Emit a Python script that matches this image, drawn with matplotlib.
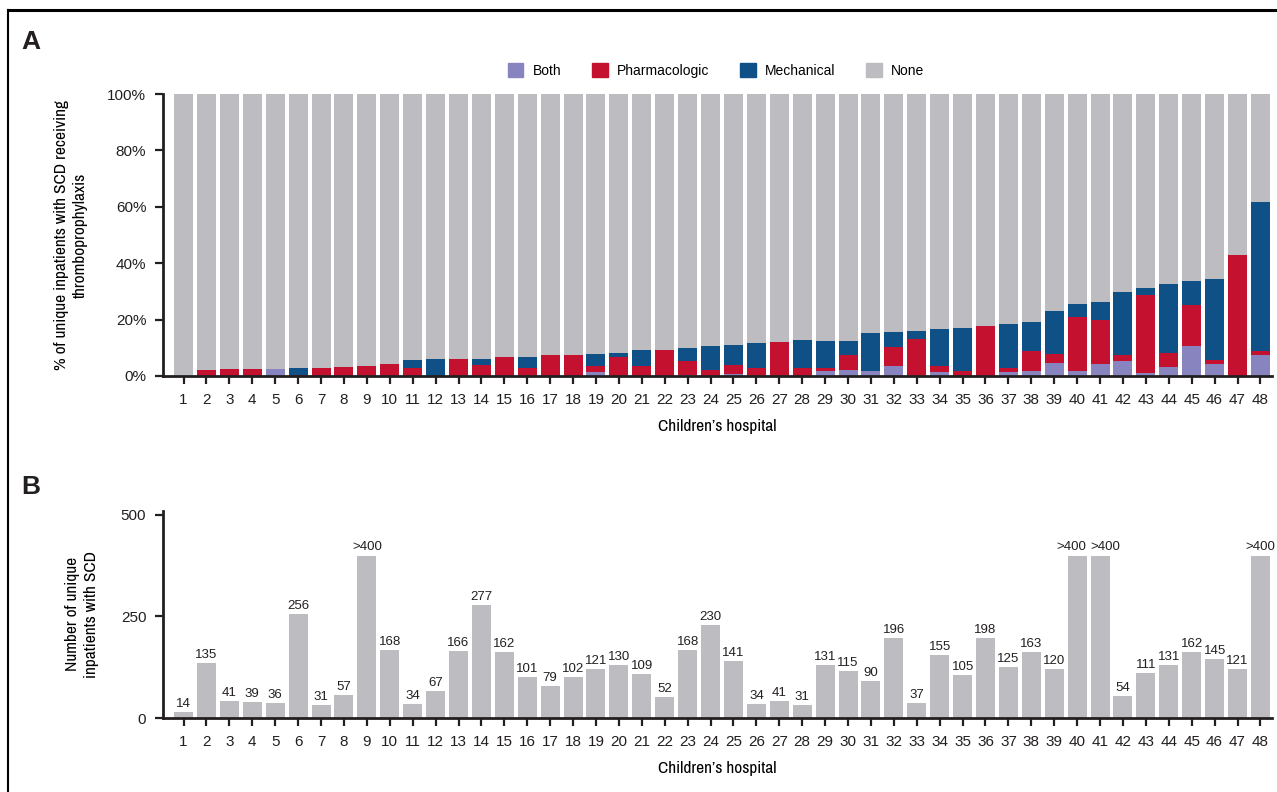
import numpy as np
import matplotlib
matplotlib.use("Agg")
import matplotlib.pyplot as plt
from matplotlib import font_manager
from matplotlib.patches import Patch
from matplotlib.lines import Line2D

plt.rcParams['font.family'] = ['Liberation Sans', 'DejaVu Sans']

# look for a narrow face for the axis titles, as in the original
narrow_names = sorted({f.name for f in font_manager.fontManager.ttflist
                       if 'Narrow' in f.name or 'Condensed' in f.name})
condensed_dejavu = any(f.name == 'DejaVu Sans' and 'condensed' in str(f.stretch)
                       for f in font_manager.fontManager.ttflist)
if narrow_names:
    lab_kw = dict(family=[narrow_names[0], 'DejaVu Sans'], fontsize=12.5)
elif condensed_dejavu:
    lab_kw = dict(family=['DejaVu Sans'], fontstretch='condensed', fontsize=11)
else:
    lab_kw = dict(family=['Liberation Sans', 'DejaVu Sans'], fontsize=10.8)

hospitals = list(range(1, 49))

# panel A, % of inpatients
both = [0, 0, 0, 0, 2.6, 0, 0, 0, 0, 0,
        0, 0, 0, 0, 0, 0, 0, 0, 1.4, 0,
        0, 0, 0.3, 0, 0.7, 0, 0, 0, 1.8, 2.1,
        1.8, 3.5, 0, 1.4, 0, 0, 1.4, 1.8, 4.6, 1.8,
        4.3, 5.3, 1.1, 3.2, 10.6, 4.3, 0, 7.4]
pharmacologic = [0, 2.2, 2.6, 2.6, 0, 0.3, 3.0, 3.3, 3.7, 4.4,
                 3.0, 0, 6.0, 3.9, 6.7, 3.0, 7.4, 7.4, 2.1, 6.7,
                 3.5, 9.2, 5.0, 2.2, 3.2, 3.0, 12.1, 3.0, 1.2, 5.3,
                 0, 6.8, 13.1, 2.1, 1.8, 17.7, 1.4, 7.1, 3.3, 19.1,
                 15.7, 2.1, 27.6, 5.0, 14.6, 1.4, 42.9, 1.5]
mechanical = [0, 0, 0, 0, 0, 2.7, 0, 0, 0, 0,
              2.8, 6.1, 0, 2.1, 0, 3.7, 0, 0, 4.3, 1.5,
              5.7, 0, 4.6, 8.4, 7.1, 8.7, 0, 9.8, 9.4, 5.0,
              13.4, 5.3, 2.9, 13.2, 15.2, 0, 15.6, 10.2, 15.1, 4.6,
              6.2, 22.4, 2.5, 24.4, 8.5, 28.7, 0, 52.8]

# panel B, number of unique inpatients (>400 drawn at 400)
counts = [14, 135, 41, 39, 36, 256, 31, 57, 400, 168,
          34, 67, 166, 277, 162, 101, 79, 102, 121, 130,
          109, 52, 168, 230, 141, 34, 41, 31, 131, 115,
          90, 196, 37, 155, 105, 198, 125, 163, 120, 400,
          400, 54, 111, 131, 162, 145, 121, 400]
count_labels = [str(c) for c in counts]
for i in [8, 39, 40, 47]:
    count_labels[i] = '>400'

c_both = '#8884bf'
c_pharm = '#c3112f'
c_mech = '#0f5086'
c_none = '#bdbcc1'
dark = '#231f20'

x = np.array(hospitals)
both = np.array(both)
pharmacologic = np.array(pharmacologic)
mechanical = np.array(mechanical)
none = 100 - both - pharmacologic - mechanical

fig = plt.figure(figsize=(12.77, 7.92), dpi=100)
axA = fig.add_axes([0.1276, 0.5253, 0.8684, 0.3560])
axB = fig.add_axes([0.1276, 0.0934, 0.8684, 0.2616])

w = 0.83
axA.bar(x, both, w, color=c_both)
axA.bar(x, pharmacologic, w, bottom=both, color=c_pharm)
axA.bar(x, mechanical, w, bottom=both + pharmacologic, color=c_mech)
axA.bar(x, none, w, bottom=both + pharmacologic + mechanical, color=c_none)
axA.set_ylim(0, 100)
axA.set_yticks([0, 20, 40, 60, 80, 100])
axA.set_yticklabels(['0%', '20%', '40%', '60%', '80%', '100%'])
axA.set_ylabel('% of unique inpatients with SCD receiving\nthromboprophylaxis',
               labelpad=14, linespacing=1.3, **lab_kw)

axB.bar(x, counts, w, color=c_none)
for xi, c, lab in zip(x, counts, count_labels):
    # the two adjacent >400 labels (40, 41) are pushed apart as in the original
    dx = {40: -0.25, 41: 0.25}.get(int(xi), 0)
    axB.text(xi + dx, c + 5, lab, ha='center', va='bottom', fontsize=9.5, color=dark)
axB.set_ylim(0, 510)
axB.set_yticks([0, 250, 500])
axB.set_ylabel('Number of unique\ninpatients with SCD',
               labelpad=16, linespacing=1.3, **lab_kw)

for ax in (axA, axB):
    ax.set_xlim(0.1, 48.5)
    ax.set_xticks(x)
    ax.set_xticklabels([str(h) for h in hospitals])
    ax.set_xlabel("Children’s hospital", labelpad=9, **lab_kw)
    for s in ['top', 'right']:
        ax.spines[s].set_visible(False)
    for s in ['left', 'bottom']:
        ax.spines[s].set_linewidth(2)
        ax.spines[s].set_color(dark)
    ax.tick_params(axis='both', direction='out', length=6, width=1.6,
                   color=dark, labelsize=11, labelcolor=dark, pad=6)

handles = [Patch(color=c_both, label='Both'),
           Patch(color=c_pharm, label='Pharmacologic'),
           Patch(color=c_mech, label='Mechanical'),
           Patch(color=c_none, label='None')]
fig.legend(handles=handles, loc='center', bbox_to_anchor=(0.561, 0.911), ncol=4,
           frameon=False, fontsize=10, handlelength=1.1, handleheight=1.1,
           columnspacing=2.2, handletextpad=0.7)

fig.text(0.017, 0.947, 'A', fontsize=19, fontweight='bold', va='center', color=dark)
fig.text(0.017, 0.385, 'B', fontsize=19, fontweight='bold', va='center', color=dark)

# border lines at top and left
fig.add_artist(Line2D([0.0063, 1], [0.9874, 0.9874], color='black', lw=2.2,
                      transform=fig.transFigure))
fig.add_artist(Line2D([0.0063, 0.0063], [0, 0.9874], color='black', lw=1.5,
                      transform=fig.transFigure))

fig.savefig('out.png', dpi=100)
